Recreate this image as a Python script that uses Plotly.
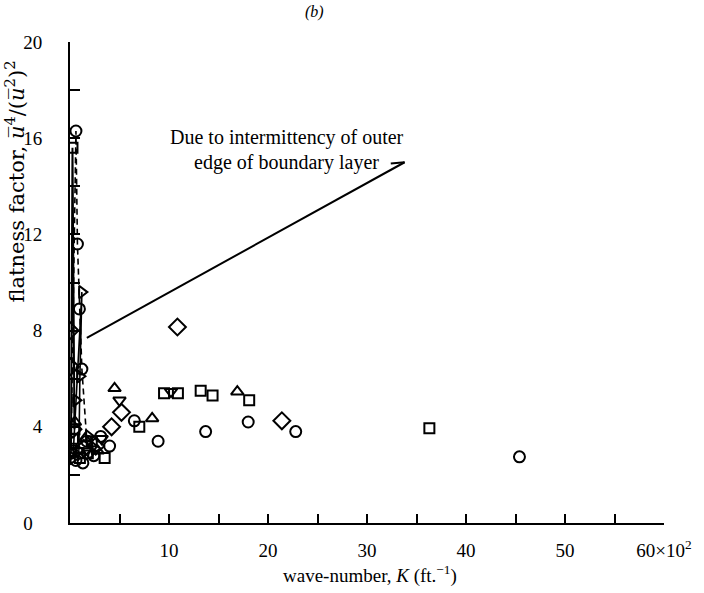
import plotly.graph_objects as go

# ---- data (wave-number in units of 10^2 ft^-1, flatness factor) ----
circ_x = [0.1, 0.6, 0.75, 0.95, 1.2, 1.7, 2.4, 3.1, 4.0, 0.6, 1.3, 6.5, 8.9, 13.7, 18.0, 22.8, 45.4]
circ_y = [2.9, 16.3, 11.6, 8.9, 6.4, 3.4, 2.8, 3.6, 3.2, 2.6, 2.5, 4.25, 3.4, 3.8, 4.2, 3.8, 2.75]

rtri_x = [0.3, 0.6, 1.2, 1.0, 0.9, 1.9, 2.5]
rtri_y = [2.7, 5.1, 9.6, 6.1, 3.0, 3.6, 3.1]

sq_x = [0.1, 0.25, 0.45, 1.0, 2.2, 3.5, 0.3, 1.8, 7.0, 9.5, 10.9, 13.2, 14.4, 18.1, 36.3]
sq_y = [3.0, 15.6, 3.9, 2.7, 3.4, 2.7, 3.5, 2.9, 4.0, 5.4, 5.4, 5.5, 5.3, 5.1, 3.94]

dia_x = [0.0, 0.05, 0.3, 1.4, 2.6, 4.2, 5.2, 10.85, 21.4]
dia_y = [8.0, 6.5, 3.9, 3.1, 3.2, 4.0, 4.6, 8.15, 4.25]

utri_x = [0.5, 1.5, 2.8, 4.5, 8.3, 16.9]
utri_y = [4.2, 3.5, 3.0, 5.6, 4.35, 5.46]

dtri_x = [0.8, 2.0, 3.2, 5.0, 10.2]
dtri_y = [3.0, 2.9, 3.5, 5.1, 5.46]

# connected (low wave-number) portions
dash_n = 6   # circle points joined by dashed line
sq_n = 3     # square points joined by solid line
rt_n = 5     # right-triangle points joined by solid line

x_ticks = [0, 5, 10, 15, 20, 25, 30, 35, 40, 45, 50, 55, 60]
x_text = ["", "", "10", "", "20", "", "30", "", "40", "", "50", "", "60×10<sup>2</sup>"]
y_ticks = [0, 2, 4, 6, 8, 10, 12, 14, 16, 18, 20]
y_text = ["0\u2002", "", "4", "", "8", "", "12", "", "16", "", "20"]

# annotation pointer (data coords)
ptr_x = [1.7, 33.8]
ptr_y = [7.7, 15.0]
tip_x = [32.4, 33.8]
tip_y = [14.95, 15.0]

FONT = "Liberation Serif"
BLK = "black"

fig = go.Figure()

def mk(sym, size=11):
    return dict(symbol=sym, size=size, color=BLK, line=dict(color=BLK, width=2))

fig.add_trace(go.Scatter(x=circ_x[:dash_n], y=circ_y[:dash_n], mode="lines",
                         line=dict(color=BLK, width=1.6, dash="6px,4px"), hoverinfo="skip"))
fig.add_trace(go.Scatter(x=sq_x[:sq_n], y=sq_y[:sq_n], mode="lines",
                         line=dict(color=BLK, width=2), hoverinfo="skip"))
fig.add_trace(go.Scatter(x=rtri_x[:rt_n], y=rtri_y[:rt_n], mode="lines",
                         line=dict(color=BLK, width=1.6), hoverinfo="skip"))

fig.add_trace(go.Scatter(x=circ_x, y=circ_y, mode="markers", marker=mk("circle-open")))
fig.add_trace(go.Scatter(x=rtri_x, y=rtri_y, mode="markers", marker=mk("triangle-right-open")))
fig.add_trace(go.Scatter(x=sq_x, y=sq_y, mode="markers", marker=mk("square-open", 10)))
fig.add_trace(go.Scatter(x=dia_x, y=dia_y, mode="markers", marker=mk("diamond-open", 13)))
fig.add_trace(go.Scatter(x=utri_x, y=utri_y, mode="markers", marker=mk("triangle-up-open")))
fig.add_trace(go.Scatter(x=dtri_x, y=dtri_y, mode="markers", marker=mk("triangle-down-open")))

fig.add_trace(go.Scatter(x=ptr_x, y=ptr_y, mode="lines", line=dict(color=BLK, width=2), hoverinfo="skip"))
fig.add_trace(go.Scatter(x=tip_x, y=tip_y, mode="lines", line=dict(color=BLK, width=2), hoverinfo="skip"))

fig.update_layout(
    width=704, height=593,
    margin=dict(l=70, r=37, t=42, b=70),
    paper_bgcolor="white", plot_bgcolor="white",
    showlegend=False,
    font=dict(family=FONT, size=18, color=BLK),
)
fig.update_xaxes(range=[0, 60], showgrid=False, zeroline=False, showline=True,
                 linecolor=BLK, linewidth=2, ticks="inside", ticklen=9, tickwidth=1.5,
                 tickcolor=BLK, tickvals=x_ticks, ticktext=x_text, ticklabelstandoff=9,
                 tickfont=dict(family=FONT, size=19, color=BLK))
fig.update_yaxes(range=[0, 20], showgrid=False, zeroline=False, showline=True,
                 linecolor=BLK, linewidth=2, ticks="inside", ticklen=10, tickwidth=1.5,
                 tickcolor=BLK, tickvals=y_ticks, ticktext=y_text, ticklabelstandoff=22,
                 tickfont=dict(family=FONT, size=19, color=BLK))

annots = [
    dict(text="<i>(b)</i>", x=0.412, y=1.062, xref="paper", yref="paper", yanchor="middle",
         showarrow=False, font=dict(family=FONT, size=16, color=BLK)),
    dict(text="wave-number, <i>K</i> (ft.<sup>−1</sup>)", x=0.505, y=-0.108, xref="paper", yref="paper",
         yanchor="middle", showarrow=False, font=dict(family=FONT, size=19, color=BLK)),
    dict(text="flatness factor, <i>u\u0305</i><sup>4</sup>/(<i>u\u0305</i><sup>2</sup>)<sup>2</sup>",
         x=-0.092, y=0.455, xref="paper", yref="paper", xanchor="center", yanchor="bottom",
         textangle=-90, showarrow=False, font=dict(family="DejaVu Serif", size=21, color=BLK)),
    dict(text="Due to intermittency of outer", x=0.365, y=0.802, xref="paper", yref="paper",
         yanchor="middle", showarrow=False, font=dict(family=FONT, size=20, color=BLK)),
    dict(text="edge of boundary layer", x=0.365, y=0.750, xref="paper", yref="paper",
         yanchor="middle", showarrow=False, font=dict(family=FONT, size=20, color=BLK)),
]
fig.update_layout(annotations=annots)

fig.write_html("out.html")
